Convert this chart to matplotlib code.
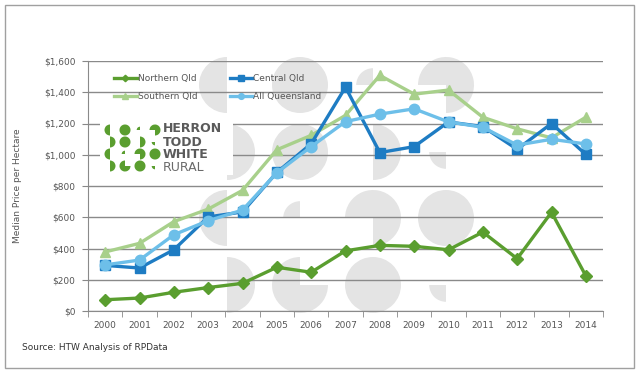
import matplotlib

matplotlib.use("Agg")
import matplotlib.pyplot as plt
from matplotlib.patches import Rectangle, Wedge

# median price per hectare, Queensland regions
years = ["2000", "2001", "2002", "2003", "2004", "2005", "2006", "2007",
         "2008", "2009", "2010", "2011", "2012", "2013", "2014"]
northern = [72, 83, 120, 150, 177, 280, 248, 385, 420, 414, 392, 505, 335, 632, 225]
central = [292, 275, 392, 602, 634, 887, 1070, 1432, 1014, 1052, 1210, 1180, 1035, 1200, 1002]
southern = [378, 433, 572, 652, 772, 1032, 1124, 1252, 1508, 1388, 1414, 1240, 1166, 1108, 1240]
allqld = [295, 326, 488, 578, 646, 885, 1052, 1212, 1260, 1294, 1210, 1176, 1062, 1099, 1069]
yticks = [0, 200, 400, 600, 800, 1000, 1200, 1400, 1600]

W, H = 639, 372
GREEN = "#5a9e2f"
CENTRAL = "#1e7cc3"
SOUTH = "#a8d08b"
ALLQ = "#6dbfe9"
WM = "#e4e4e4"

# logo shape pattern: (theta1, theta2, radius scale) for a 4x4 grid
PATTERN = [
    [(90, 270, 1.0), (0, 360, 1.0), (90, 180, 0.6), (-90, 180, 1.0)],
    [(-90, 90, 1.0), (0, 360, 1.0), (-90, 90, 1.0), (180, 270, 0.6)],
    [(90, 270, 1.0), (90, 180, 0.6), (-90, 180, 1.0), (0, 360, 1.0)],
    [(-90, 90, 1.0), (90, 360, 1.0), (0, 360, 1.0), (180, 270, 0.6)],
]


def draw_marks(ax, xs, ys, r, color, z):
    for i, row in enumerate(PATTERN):
        for j, (t1, t2, s) in enumerate(row):
            # y axis is inverted (pixel coords), so flip the angles
            ax.add_patch(Wedge((xs[j], ys[i]), r * s, -t2, -t1, color=color,
                               lw=0, zorder=z))


fig = plt.figure(figsize=(W / 100, H / 100), dpi=100)

# background layer: frame + watermark
bg = fig.add_axes([0, 0, 1, 1], zorder=0)
bg.set_xlim(0, W)
bg.set_ylim(H, 0)
bg.axis("off")
bg.add_patch(Rectangle((5, 5), 629, 363, fill=False, ec="#a0a0a0", lw=1.0))
draw_marks(bg, [227, 300, 373, 446], [85, 152, 218, 285], 28, WM, 1)

ax = fig.add_axes([88 / W, (H - 311) / H, (603 - 88) / W, (311 - 61) / H], zorder=1)
ax.patch.set_alpha(0)
x = list(range(len(years)))
ln_n, = ax.plot(x, northern, color=GREEN, lw=2.4, marker="D", ms=6, label="Northern Qld", zorder=5)
ln_c, = ax.plot(x, central, color=CENTRAL, lw=2.4, marker="s", ms=7.5, label="Central Qld", zorder=3)
ln_s, = ax.plot(x, southern, color=SOUTH, lw=2.4, marker="^", ms=7, label="Southern Qld", zorder=2)
ln_a, = ax.plot(x, allqld, color=ALLQ, lw=2.4, marker="o", ms=7.5, label="All Queensland", zorder=4)

ax.set_xlim(-0.5, len(years) - 0.5)
ax.set_ylim(0, 1600)
ax.set_yticks(yticks)
ax.set_yticklabels([f"${v:,}" for v in yticks])
ax.set_xticks(x)
ax.set_xticklabels(years)
ax.set_xticks([i - 0.5 for i in range(len(years) + 1)], minor=True)
ax.tick_params(axis="x", which="major", length=0, pad=7, labelsize=6.5, colors="#555555")
ax.tick_params(axis="x", which="minor", length=4, color="#888888", direction="out")
ax.tick_params(axis="y", length=4, color="#888888", pad=5, labelsize=6.5, labelcolor="#555555")
ax.grid(axis="y", color="#8a8a8a", lw=1.0, zorder=0)
ax.set_axisbelow(True)
for s in ("top", "right"):
    ax.spines[s].set_visible(False)
for s in ("left", "bottom"):
    ax.spines[s].set_color("#8a8a8a")

ax.legend(handles=[ln_n, ln_s, ln_c, ln_a], ncol=2, loc="upper left",
          bbox_to_anchor=(0.035, 0.98), frameon=False,
          fontsize=6.5, handlelength=2.5, handletextpad=0.1, columnspacing=3.6,
          markerscale=0.55, labelspacing=0.95, labelcolor="#555555")

fig.text(18 / W, 1 - 186 / H, "Median Price per Hectare", rotation=90, va="center",
         ha="center", fontsize=6.5, color="#555555")
fig.text(22 / W, 1 - 348 / H, "Source: HTW Analysis of RPData", va="center",
         ha="left", fontsize=6.5, color="#333333")

# logo on top
top = fig.add_axes([0, 0, 1, 1], zorder=2)
top.set_xlim(0, W)
top.set_ylim(H, 0)
top.axis("off")
top.add_patch(Rectangle((100, 120), 133, 55, color="white", lw=0))
draw_marks(top, [110, 125, 140, 155], [130, 142, 154, 166], 5.5, GREEN, 3)
top.text(163, 142, "HERRON\nTODD\nWHITE", fontsize=9, fontweight="bold",
         color="#5a5a5a", va="center", ha="left", linespacing=1.0, zorder=4)
top.text(163, 167.5, "RURAL", fontsize=9, color="#6a6a6a", va="center", ha="left",
         zorder=4)

fig.savefig("out.png", dpi=100)
